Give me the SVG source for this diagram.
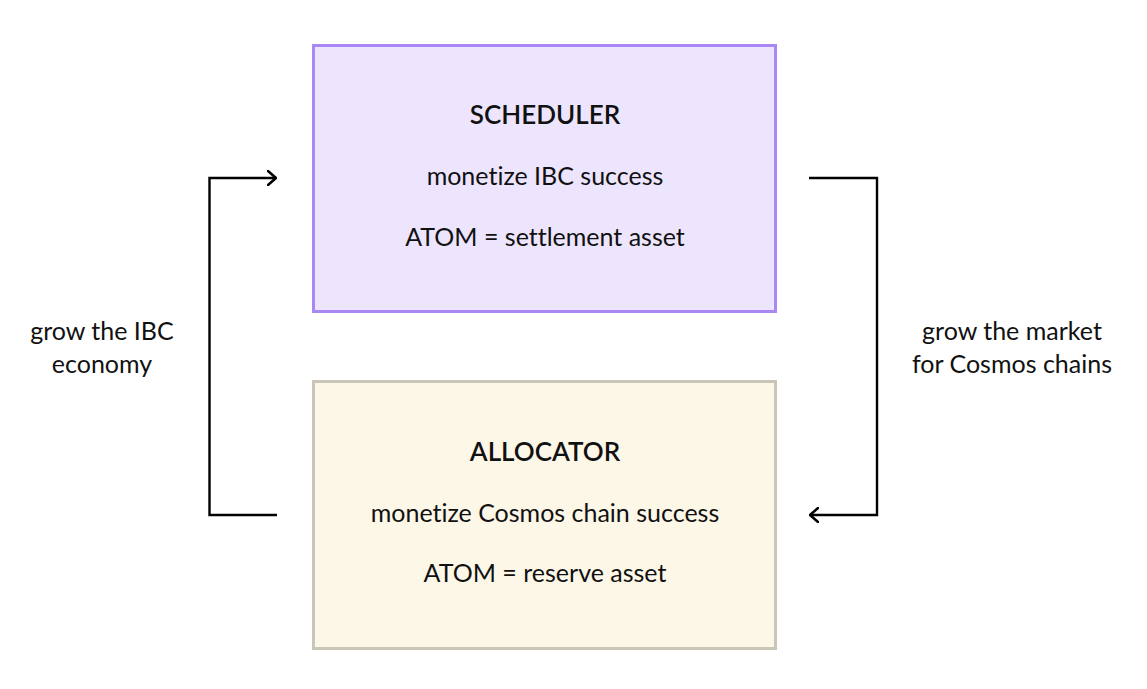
<svg xmlns="http://www.w3.org/2000/svg" width="1147" height="689" viewBox="0 0 1147 689">
<defs>
<marker id="arr" viewBox="0 0 10 16" refX="9" refY="8" markerWidth="10" markerHeight="16" markerUnits="userSpaceOnUse" orient="auto">
<path d="M1,1 L9,8 L1,15" fill="none" stroke="#000" stroke-width="2.5" stroke-linecap="round" stroke-linejoin="round"/>
</marker>
<style>
text{font-family:"Lato","DejaVu Sans",sans-serif;fill:#111;text-anchor:middle;font-variant-ligatures:none;font-feature-settings:"liga" 0}
.t{font-size:26px;font-weight:600}
.b{font-size:25px}
.c{fill:none;stroke:#000;stroke-width:2.4}
</style>
</defs>
<rect width="1147" height="689" fill="#fff"/>
<g id="scheduler">
<rect x="313.5" y="45.5" width="462" height="266" fill="#ede5fd" stroke="#a987f4" stroke-width="3"/>
<text class="t" x="545" y="124">SCHEDULER</text>
<text class="b" x="545" y="185">monetize IBC success</text>
<text class="b" x="545" y="246">ATOM = settlement asset</text>
</g>
<g id="allocator">
<rect x="313.5" y="381.5" width="462" height="267" fill="#fdf7e8" stroke="#c9c5b7" stroke-width="3"/>
<text class="t" x="545" y="461">ALLOCATOR</text>
<text class="b" x="545" y="522">monetize Cosmos chain success</text>
<text class="b" x="545" y="582">ATOM = reserve asset</text>
</g>
<g id="connectors">
<path class="c" d="M277,515 H209.5 V178 H276" marker-end="url(#arr)"/>
<path class="c" d="M809,178 H877 V515 H810" marker-end="url(#arr)"/>
</g>
<g id="labels">
<text class="b" x="102" y="340">grow the IBC</text>
<text class="b" x="102" y="373">economy</text>
<text class="b" x="1012" y="340">grow the market</text>
<text class="b" x="1012" y="373">for Cosmos chains</text>
</g>
</svg>
